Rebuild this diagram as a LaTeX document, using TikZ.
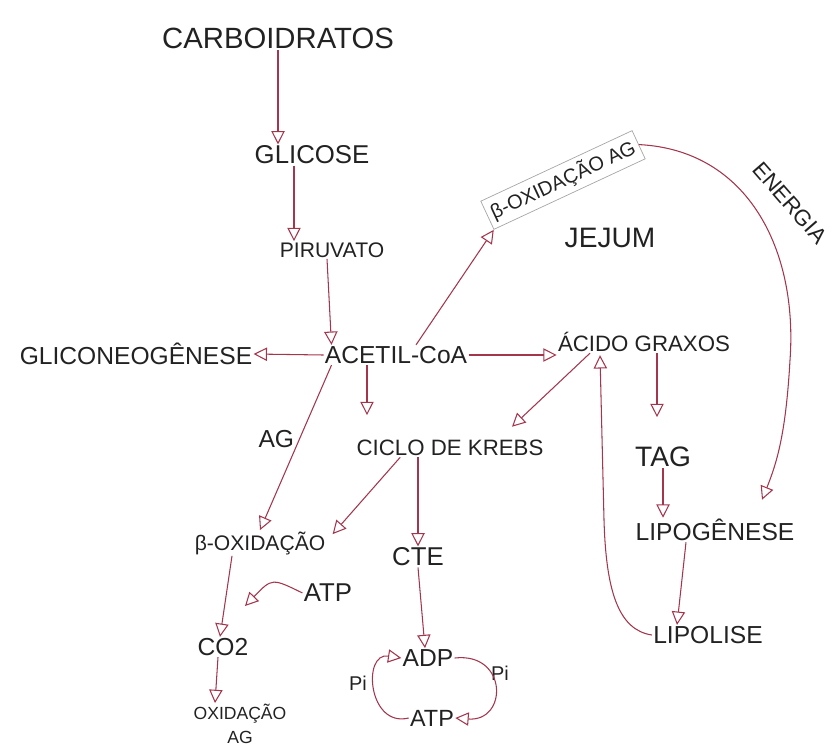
\documentclass[tikz,border=0pt]{standalone}
\usepackage{fontspec}
\setmainfont{Liberation Sans}
\usetikzlibrary{arrows.meta,calc,positioning}

\definecolor{vinho}{HTML}{A3354D}
\definecolor{tinta}{HTML}{222222}

\begin{document}
\begin{tikzpicture}[x=0.3mm,y=-0.3mm,
  every node/.style={inner sep=1pt,text=tinta,font=\fontsize{21}{24}\selectfont},
  seta/.style={draw=vinho,line width=0.9pt,-{Triangle[open,length=4mm,width=4mm]}},
  caixa/.style={draw=gray!70,line width=0.6pt,inner sep=4pt},
  pequeno/.style={font=\fontsize{15}{20}\selectfont}]
\useasboundingbox (0,0) rectangle (834,751);
% coluna da glicose
\node (carbo) at (278,38) [font=\fontsize{25}{28}\selectfont] {CARBOIDRATOS};
\node (glicose) at (312,155) [font=\fontsize{22}{24}\selectfont] {GLICOSE};
\node (piruvato) at (332,250) [font=\fontsize{18}{20}\selectfont] {PIRUVATO};
\node (acetil) at (396,355) {ACETIL-CoA};
\node (gliconeo) at (136,354) {GLICONEOGÊNESE};
\node (krebs) at (450,448) [font=\fontsize{19}{22}\selectfont] {CICLO DE KREBS};
\node (betaox) at (260,543) [font=\fontsize{18}{20}\selectfont] {β-OXIDAÇÃO};
\node (cte) at (418,557) [font=\fontsize{22}{24}\selectfont] {CTE};
\node (atpa) at (328,593) [font=\fontsize{22}{24}\selectfont] {ATP};
\node (co2) at (223,647) {CO2};
\node (oxid) at (240,724) [pequeno,align=center] {OXIDAÇÃO\\AG};
\node (adp) at (428,658) {ADP};
\node (atpb) at (432,718) [font=\fontsize{20}{22}\selectfont] {ATP};
\node (pia) at (358,683) [font=\fontsize{17}{20}\selectfont] {Pi};
\node (pib) at (500,673) [font=\fontsize{17}{20}\selectfont] {Pi};
\coordinate (atpalvo) at (245,606);
% lado dos lipidios
\node (betaag) at (563,180) [caixa,rotate=25,font=\fontsize{17}{20}\selectfont] {β-OXIDAÇÃO AG};
\node (jejum) at (610,238) [font=\fontsize{24}{26}\selectfont] {JEJUM};
\node (energia) at (790,203) [rotate=-49,font=\fontsize{19}{22}\selectfont] {ENERGIA};
\node (acido) at (644,342) [font=\fontsize{19}{22}\selectfont] {ÁCIDO GRAXOS};
\node (tag) at (663,457) [font=\fontsize{24}{26}\selectfont] {TAG};
\node (lipog) at (715,530) {LIPOGÊNESE};
\node (lipol) at (708,635) {LIPOLISE};

\draw[seta] (carbo.south) -- (carbo.south |- glicose.north);
\draw[seta] ($(glicose.south)+(-18,0)$) -- ($(piruvato.north)+(-38,0)$);
\draw[seta] ($(piruvato.south)+(-5,0)$) -- ($(acetil.north west)+(8,0)$);
\draw[seta] (acetil.west) -- (gliconeo.east);
\draw[seta] (acetil.east) -- (acetil.east -| acido.west);
\draw[seta] ($(acetil.north)+(20,0)$) -- (betaag.south west);
\draw[seta] ($(acetil.south)+(-29,0)$) -- ($(acetil.south)+(-29,50)$);
\draw[seta] ($(acetil.south west)+(8,0)$) -- node[pos=0.45,left=3pt] {AG} (betaox.north);
\draw[seta] ($(krebs.south west)+(45,0)$) -- ($(betaox.north east)+(6,4)$);
\draw[seta] ($(krebs.south)+(-32,0)$) -- (cte.north);
\draw[seta] ($(betaox.south)+(-28,0)$) -- ($(co2.north)+(-3,0)$);
\draw[seta] (atpa.west) .. controls (272,578) .. (atpalvo);
\draw[seta] ($(co2.south)+(-5,0)$) -- ($(oxid.north)+(-25,0)$);
\draw[seta] (cte.south) -- ($(adp.north)+(-3,0)$);
\draw[seta] (atpb.west) .. controls (368,728) and (362,652) .. (adp.west);
\draw[seta] (adp.east) .. controls (508,652) and (508,722) .. (atpb.east);
% setas dos acidos graxos
\draw[seta] ($(acido.south)+(-54,0)$) -- ($(krebs.north)+(62,-12)$);
\draw[seta] ($(acido.south)+(13,0)$) -- ($(acido.south)+(13,64)$);
\draw[seta] (tag.south) -- (tag.south |- lipog.north);
\draw[seta] ($(lipog.south)+(-29,0)$) -- ($(lipol.north)+(-31,0)$);
\draw[seta] (lipol.west) .. controls (618,630) and (606,590) .. (604,520) -- ($(acido.south)+(-44,2)$);
\draw[seta] (betaag.east) .. controls (748,150) and (798,250) .. (790,360)
  .. controls (786,430) and (778,460) .. ($(lipog.north)+(47,-18)$);
\end{tikzpicture}
\end{document}
